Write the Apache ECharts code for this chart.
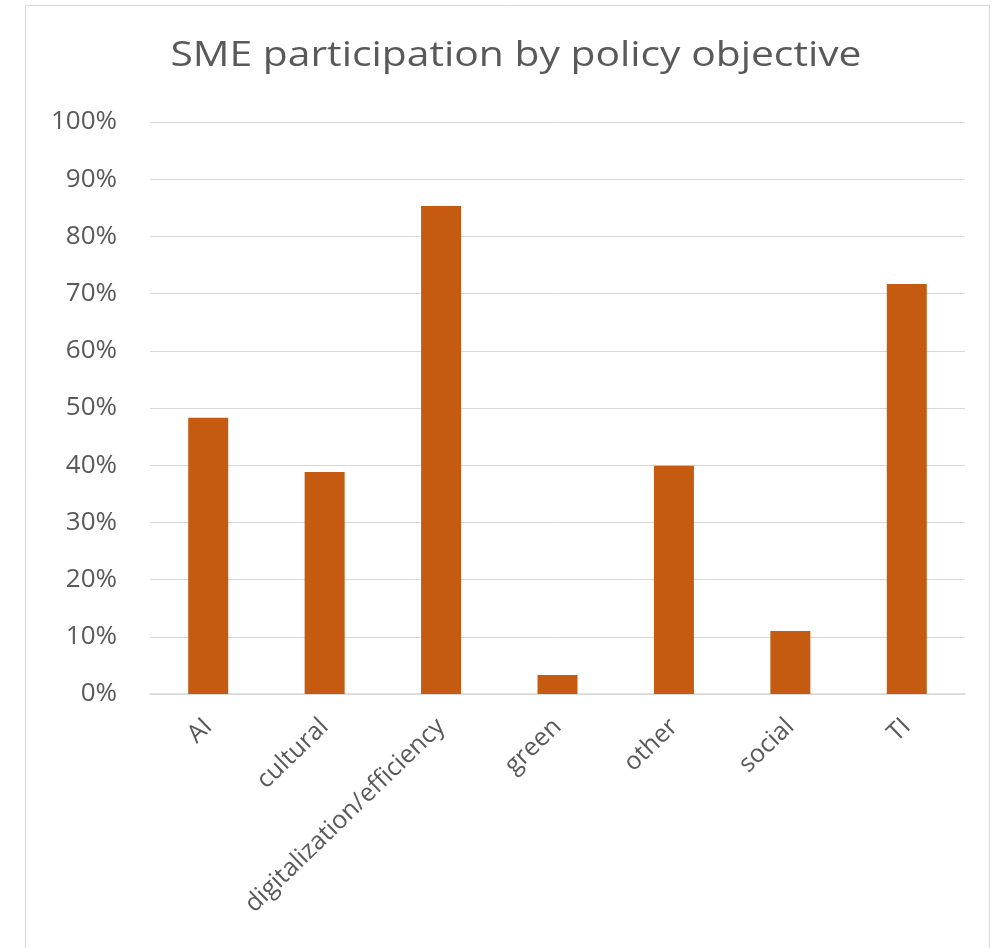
<!DOCTYPE html>
<html>
<head>
<meta charset="utf-8">
<script src="https://cdn.jsdelivr.net/npm/echarts@6/dist/echarts.min.js"></script>
<style>
  html, body { margin: 0; padding: 0; background: #ffffff; }
  #chart { width: 1008px; height: 948px; }
</style>
</head>
<body>
<div id="chart"></div>
<script>
// Policy objectives and share of SME participation (percent)
const categories = ['AI', 'cultural', 'digitalization/efficiency', 'green', 'other', 'social', 'TI'];
const participation = [48.3, 38.8, 85.3, 3.3, 39.9, 11.0, 71.7];
const yTicks = [0, 10, 20, 30, 40, 50, 60, 70, 80, 90, 100];
const chartTitle = 'SME participation by policy objective';

const chart = echarts.init(document.getElementById('chart'));
const textColor = '#595959';
const fontFamily = "'Open Sans', 'Noto Sans', sans-serif";

chart.setOption({
  animation: false,
  backgroundColor: '#ffffff',
  graphic: [{
    type: 'rect',
    shape: { x: 25.5, y: 5.5, width: 964, height: 960 },
    style: { fill: 'none', stroke: '#d9d9d9', lineWidth: 1 },
    silent: true
  }, {
    // chart title, slightly widened
    type: 'text',
    x: 516,
    y: 56,
    scaleX: 1.2,
    silent: true,
    style: {
      text: chartTitle,
      fill: textColor,
      fontSize: 34,
      fontFamily: fontFamily,
      align: 'center',
      verticalAlign: 'middle'
    }
  }],
  grid: { left: 150, right: 43, top: 122, height: 572 },
  xAxis: {
    type: 'category',
    data: categories,
    axisLine: { lineStyle: { color: '#d9d9d9', width: 1.5 } },
    axisTick: { show: false },
    axisLabel: {
      rotate: 44,
      margin: 29,
      color: textColor,
      fontSize: 25,
      fontFamily: fontFamily
    }
  },
  yAxis: {
    type: 'value',
    min: yTicks[0],
    max: yTicks[yTicks.length - 1],
    interval: 10,
    axisLine: { show: false },
    axisTick: { show: false },
    splitLine: { lineStyle: { color: '#d9d9d9', width: 1 } },
    axisLabel: {
      margin: 33,
      color: textColor,
      fontSize: 26,
      fontFamily: fontFamily,
      formatter: v => v + '%'
    }
  },
  series: [{
    type: 'bar',
    data: participation,
    barWidth: 40,
    itemStyle: { color: '#c55a11' }
  }]
});
</script>
</body>
</html>
